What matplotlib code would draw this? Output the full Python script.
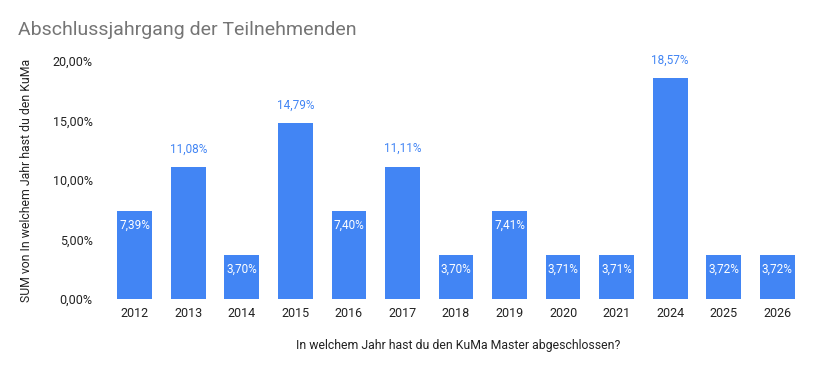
import matplotlib
matplotlib.use("Agg")
import matplotlib.pyplot as plt
from matplotlib.ticker import FuncFormatter

plt.rcParams['font.family'] = ['Roboto', 'DejaVu Sans']

years = ["2012", "2013", "2014", "2015", "2016", "2017", "2018", "2019",
         "2020", "2021", "2024", "2025", "2026"]
values = [7.39, 11.08, 3.70, 14.79, 7.40, 11.11, 3.70, 7.41,
          3.71, 3.71, 18.57, 3.72, 3.72]
yticks = [0, 5, 10, 15, 20]

title = "Abschlussjahrgang der Teilnehmenden"
xlabel = "In welchem Jahr hast du den KuMa Master abgeschlossen?"
ylabel = "SUM von In welchem Jahr hast du den KuMa"

blue = "#4285f4"

def fmt(v):
    return f"{v:.2f}".replace(".", ",") + "%"

fig = plt.figure(figsize=(8.31, 3.71), dpi=100)
ax = fig.add_axes([108/831, 72/371, (804-108)/831, (299-61)/371])

x = list(range(len(years)))
bars = ax.bar(x, values, width=0.65, color=blue, zorder=2)

ax.set_xlim(-0.5, len(years) - 0.5)
ax.set_ylim(0, 20)
ax.set_yticks(yticks)
ax.yaxis.set_major_formatter(FuncFormatter(lambda v, p: fmt(v)))
ax.set_xticks(x)
ax.set_xticklabels(years)

for s in ax.spines.values():
    s.set_visible(False)
ax.tick_params(axis='both', length=0, labelsize=9, colors="#222222")
ax.tick_params(axis='x', pad=6)
ax.tick_params(axis='y', pad=11)

for xi, v in zip(x, values):
    if v > 10:
        ax.annotate(fmt(v), (xi, v), xytext=(0, 13), textcoords="offset points",
                    ha="center", va="center", color=blue, fontsize=8.5)
    else:
        ax.annotate(fmt(v), (xi, v), xytext=(0, -10.5), textcoords="offset points",
                    ha="center", va="center", color="white", fontsize=8.5)

fig.text(18/831, 1 - 30/371, title, fontsize=14, color="#757575", ha="left", va="center")
fig.text(458/831, 1 - 346/371, xlabel, fontsize=8.8, color="#222222", ha="center", va="center")
fig.text(27/831, 1 - 180/371, ylabel, fontsize=8.8, color="#222222", ha="center", va="center", rotation=90)

fig.savefig("out.png", dpi=100)
